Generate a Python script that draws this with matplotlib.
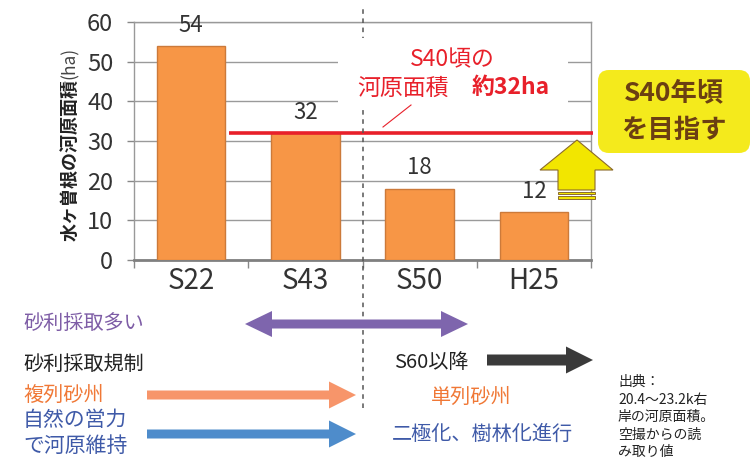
import matplotlib.pyplot as plt
from matplotlib.patches import Polygon, Rectangle, FancyBboxPatch

plt.rcParams['font.family'] = ['Noto Sans CJK JP', 'DejaVu Sans']
NUM_FONT = ['Liberation Sans Narrow', 'Noto Sans CJK JP']

# 河原面積の推移
periods = ['S22', 'S43', 'S50', 'H25']
areas = [54, 32, 18, 12]
target = 32          # S40頃の河原面積(約32ha)
y_ticks = [0, 10, 20, 30, 40, 50, 60]

fig = plt.figure(figsize=(7.55, 4.61), dpi=100)
W, H = 755, 461
ax = fig.add_axes([134 / W, 1 - 260 / H, 457 / W, 238 / H])

x = list(range(len(periods)))
ax.set_xlim(-0.5, len(periods) - 0.5)
ax.set_ylim(0, 60)
ax.set_yticks(y_ticks)
ax.yaxis.grid(True, color='#9a9a9a', lw=1)
ax.set_axisbelow(True)

ax.bar(x, areas, width=0.6, color='#F79646', edgecolor='#CC7A3A', lw=1, zorder=3)
for i, v in zip(x, areas):
    ax.text(i, v + 5.2, str(v), ha='center', va='center', fontsize=16,
            color='#333333', family=NUM_FONT)

# 目標ライン
ax.hlines(target, 0.33, 3.52, color='#E8202A', lw=2.6, zorder=4, clip_on=False)
# S43とS50の間の区切り
ax.axvline(1.5, ymin=-0.62, ymax=1.07, color='#555555', lw=1.1, ls=(0, (3, 3)),
           clip_on=False, zorder=4)

ax.set_xticks(x)
ax.set_xticklabels(periods, family=NUM_FONT)
ax.set_xticks([i - 0.5 for i in range(len(periods) + 1)], minor=True)
ax.tick_params(axis='x', which='major', length=0, labelsize=20, pad=4, labelcolor='#333333')
ax.tick_params(axis='x', which='minor', length=6, color='#888888', width=1)
ax.tick_params(axis='y', length=5, color='#888888', width=1, pad=10,
               labelsize=17, labelcolor='#333333')
for lab in ax.get_yticklabels():
    lab.set_family(NUM_FONT)
for s in ['left', 'top', 'right']:
    ax.spines[s].set_color('#999999')
    ax.spines[s].set_linewidth(1)
ax.spines['bottom'].set_color('#808080')
ax.spines['bottom'].set_linewidth(2)

# 縦軸ラベル(漢字部分は太字、単位は細字)
ylab = fig.text(70 / W, 1 - 241 / H, '水ヶ曽根の河原面積', rotation=90, ha='center', va='bottom',
                fontsize=13, fontweight='bold', color='#222222')
fig.canvas.draw()
bb = ylab.get_window_extent().transformed(fig.transFigure.inverted())
fig.text(70 / W, bb.y1, '(ha)', rotation=90, ha='center', va='bottom',
         fontsize=12.5, color='#444444')

# 注記用のレイヤー(ピクセル座標)
ov = fig.add_axes([0, 0, 1, 1], zorder=5)
ov.set_xlim(0, W)
ov.set_ylim(H, 0)
ov.axis('off')

ov.add_patch(Rectangle((338, 38), 230, 68, facecolor='white', edgecolor='none'))
red = '#E8202A'
ov.text(452, 60, 'S40頃の', ha='center', va='center', fontsize=16.5, color=red)
ov.text(357, 88, '河原面積', ha='left', va='center', fontsize=16.5, color=red)
ov.text(472, 88, '約32ha', ha='left', va='center', fontsize=16.5, color=red, fontweight='bold')
ov.plot([411, 383], [105, 127], color=red, lw=0.8)

# 目標の吹き出し
ov.add_patch(FancyBboxPatch((598, 70), 152, 83, boxstyle='round,pad=0,rounding_size=11',
                            facecolor='#F4EA1C', edgecolor='none'))
ov.text(674, 93, 'S40年頃', ha='center', va='center', fontsize=19, fontweight='bold', color='#6B3F12')
ov.text(674, 130, 'を目指す', ha='center', va='center', fontsize=19, fontweight='bold', color='#6B3F12')

up = [(577, 140), (613, 170), (595, 170), (595, 190), (558, 190), (558, 170), (540, 170)]
ov.add_patch(Polygon(up, closed=True, facecolor='#F2E600', edgecolor='#8B6A2B', lw=0.8))
ov.add_patch(Rectangle((558, 191.5), 37, 2.2, facecolor='#F2E600', edgecolor='#8B6A2B', lw=0.7))
ov.add_patch(Rectangle((558, 195.5), 37, 3.5, facecolor='#F2E600', edgecolor='#8B6A2B', lw=0.7))


def arrow(x0, x1, y, color, shaft=10, head=27, hl=27, both=False):
    s, h = shaft / 2, head / 2
    pts = [(x1, y), (x1 - hl, y + h), (x1 - hl, y + s)]
    if both:
        pts += [(x0 + hl, y + s), (x0 + hl, y + h), (x0, y), (x0 + hl, y - h), (x0 + hl, y - s)]
    else:
        pts += [(x0, y + s), (x0, y - s)]
    pts += [(x1 - hl, y - s), (x1 - hl, y - h)]
    ov.add_patch(Polygon(pts, closed=True, facecolor=color, edgecolor='none'))


purple, orange, blue = '#7E5DA6', '#F07836', '#3F5AA8'
ov.text(23, 323, '砂利採取多い', ha='left', va='center', fontsize=14.5, color=purple)
arrow(245, 468, 324, '#7E65AD', shaft=9, head=26, both=True)

ov.text(23, 364, '砂利採取規制', ha='left', va='center', fontsize=14.5, color='#222222')
ov.text(394, 362, 'S60以降', ha='left', va='center', fontsize=14.5, color='#222222')
arrow(487, 593, 360, '#3A3A3A', shaft=11)

ov.text(23, 395, '複列砂州', ha='left', va='center', fontsize=14.5, color=orange)
arrow(147, 356, 395, '#F7956A', shaft=9)
ov.text(471, 397, '単列砂州', ha='center', va='center', fontsize=14.5, color=orange)

ov.text(23, 420, '自然の営力', ha='left', va='center', fontsize=15, color=blue)
ov.text(23, 446, 'で河原維持', ha='left', va='center', fontsize=15, color=blue)
arrow(147, 356, 434, '#4E8CCB', shaft=9)
ov.text(392, 434, '二極化、樹林化進行', ha='left', va='center', fontsize=14.5, color=blue)

ov.text(618, 375, '出典：\n20.4～23.2k右\n岸の河原面積。\n空撮からの読\nみ取り値', ha='left', va='top',
        fontsize=10, color='#222222', linespacing=1.32)

fig.savefig('out.png', dpi=100)
